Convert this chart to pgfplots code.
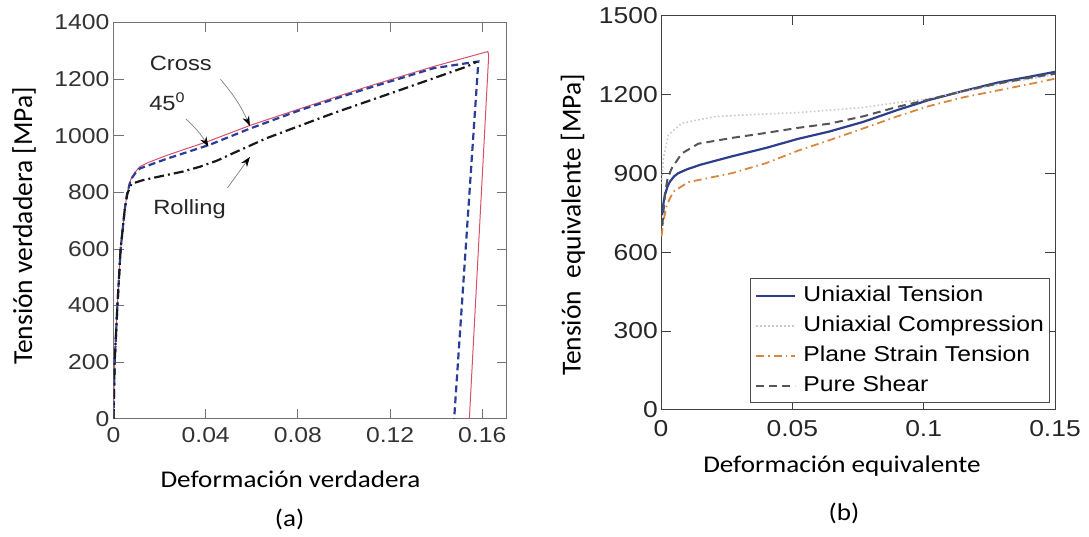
\documentclass[border=0pt]{standalone}
\usepackage{fontspec}
\setmainfont{Carlito}
\usepackage{pgfplots}
\pgfplotsset{compat=1.18}
\usetikzlibrary{arrows.meta}
\newfontfamily\arialS[FakeStretch=1.15]{Liberation Sans}
\newfontfamily\calS[FakeStretch=1.13]{Carlito}
\newfontfamily\calN{Carlito}
\newcommand\tickA{\arialS\fontsize{21.5}{24}\selectfont}
\newcommand\tickB{\arialS\fontsize{23}{26}\selectfont}
\newcommand\annA{\arialS\fontsize{20.6}{24}\selectfont}
\newcommand\legB{\arialS\fontsize{21.5}{24}\selectfont}
\newcommand\labA{\calS\fontsize{24}{28}\selectfont}
\newcommand\labY{\calN\fontsize{27.5}{30}\selectfont}
\definecolor{cred}{HTML}{D9506A}
\definecolor{cblueA}{HTML}{2A3D9A}
\definecolor{cblueB}{HTML}{2C3E8C}
\definecolor{ccomp}{HTML}{CFC6D0}
\definecolor{corange}{HTML}{D9873F}
\definecolor{cshear}{HTML}{555555}
\begin{document}
\begin{tikzpicture}
\path[use as bounding box] (0pt,0pt) rectangle (1089pt,537pt);
% ---------------- panel (a)
\begin{axis}[
  at={(113.5pt,118.2pt)}, anchor=south west, scale only axis,
  width=393.2pt, height=396.4pt,
  xmin=0, xmax=0.1706, ymin=0, ymax=1400,
  xtick={0,0.04,0.08,0.12,0.16}, xticklabels={0,0.04,0.08,0.12,0.16},
  ytick={0,200,400,600,800,1000,1200,1400},
  yticklabels={0,200,400,600,800,1000,1200,1400},
  scaled ticks=false,
  xtick pos=both, ytick pos=both, xticklabel pos=lower, yticklabel pos=left,
  tick align=inside, major tick length=10pt,
  axis line style={draw=black!55, line width=0.8pt},
  every tick/.style={draw=black!55, line width=0.8pt},
  ticklabel style={font=\tickA, text=black!80},
  xticklabel style={inner sep=0pt, yshift=-8pt},
  yticklabel style={inner sep=0pt, xshift=-4pt},
]
\addplot[cred, line width=1pt] coordinates {
(0,0)(0.0005,200)(0.0017,400)(0.0031,600)(0.0049,741)(0.006,798)(0.0075,845)
(0.0095,872)(0.0114,890)(0.015,905)(0.023,930)(0.0418,982)(0.0592,1036)
(0.0809,1095)(0.1098,1172)(0.1388,1244)(0.1615,1295)(0.1624,1297)(0.1628,1285)(0.1544,0)};
\addplot[cblueA, line width=2.2pt, dash pattern=on 7pt off 4pt] coordinates {
(0,0)(0.0005,200)(0.0017,400)(0.0031,600)(0.0049,741)(0.006,798)(0.0075,845)
(0.0095,868)(0.0114,884)(0.023,918)(0.0418,968)(0.0592,1025)(0.0809,1090)
(0.1098,1166)(0.1388,1238)(0.1583,1262)(0.1478,0)};
\addplot[black!90, line width=2.2pt, dash pattern=on 10pt off 4pt on 2pt off 4pt] coordinates {
(0,0)(0.0005,200)(0.0017,400)(0.0031,600)(0.0049,741)(0.006,795)(0.0078,830)
(0.0128,843)(0.023,861)(0.03,873)(0.0374,890)(0.045,912)(0.0519,938)(0.0664,991)(0.0953,1079)
(0.1243,1161)(0.1533,1244)(0.1576,1261)};
\node[font=\annA, text=black!85] at (axis cs:0.0292,1254) {Cross};
\node[font=\annA, text=black!85] at (axis cs:0.0232,1120) {45\raisebox{8pt}{\fontsize{14}{14}\selectfont 0}};
\node[font=\annA, text=black!85] at (axis cs:0.033,742) {Rolling};
\draw[black!50, line width=0.7pt, -{Stealth[length=10pt,width=7pt,black]}] (axis cs:0.0464,1199) to[bend left=8] (axis cs:0.0592,1034);
\draw[black!50, line width=0.7pt, -{Stealth[length=10pt,width=7pt,black]}] (axis cs:0.0314,1059) to[bend left=8] (axis cs:0.0412,961);
\draw[black!50, line width=0.7pt, -{Stealth[length=10pt,width=7pt,black]}] (axis cs:0.0494,815) -- (axis cs:0.0592,925);
\end{axis}
% ---------------- panel (b)
\begin{axis}[
  at={(661pt,127pt)}, anchor=south west, scale only axis,
  width=394pt, height=394.7pt,
  xmin=0, xmax=0.15, ymin=0, ymax=1500,
  xtick={0,0.05,0.1,0.15}, xticklabels={0,0.05,0.1,0.15},
  ytick={0,300,600,900,1200,1500},
  yticklabels={0,300,600,900,1200,1500},
  scaled ticks=false,
  xtick pos=both, ytick pos=both, xticklabel pos=lower, yticklabel pos=left,
  tick align=inside, major tick length=10pt,
  axis line style={draw=black!75, line width=1pt},
  every tick/.style={draw=black!75, line width=1pt},
  ticklabel style={font=\tickB, text=black!85},
  xticklabel style={inner sep=0pt, yshift=-10pt},
  yticklabel style={inner sep=0pt, xshift=-3pt},
  legend style={at={(axis description cs:1,0)}, anchor=south east,
    xshift=-5.7pt, yshift=6.7pt, draw=black!70, line width=0.8pt,
    font=\legB, inner xsep=5pt, inner ysep=6pt, row sep=8pt,
    nodes={inner sep=0pt, text height=17pt, text depth=5pt},
    /tikz/every odd column/.append style={column sep=7pt}},
  legend cell align=left,
  legend image code/.code={\draw[#1] (0pt,0pt) -- (39pt,0pt);},
]
\addplot[cblueB, line width=2.2pt] coordinates {
(0.0004,740)(0.001,790)(0.0015,817)(0.0025,850)(0.0034,868)(0.005,888)(0.0066,900)
(0.01,915)(0.015,932)(0.027,964)(0.04,996)(0.052,1030)(0.064,1058)(0.077,1095)
(0.09,1140)(0.102,1178)(0.115,1212)(0.128,1244)(0.14,1266)(0.15,1285)};
\addlegendentry{Uniaxial Tension}
\addplot[ccomp, line width=1.6pt, dash pattern=on 1.6pt off 2.4pt] coordinates {
(0.0002,860)(0.0009,957)(0.0028,1045)(0.0079,1090)(0.0206,1115)(0.033,1122)
(0.052,1130)(0.065,1140)(0.077,1150)(0.09,1168)(0.1,1180)(0.115,1210)(0.13,1240)(0.15,1275)};
\addlegendentry{Uniaxial Compression}
\addplot[corange, line width=1.8pt, dash pattern=on 8pt off 4pt on 1.5pt off 4pt] coordinates {
(0.0002,660)(0.0009,715)(0.0022,779)(0.0047,830)(0.0104,866)(0.027,900)(0.04,938)
(0.052,985)(0.064,1025)(0.077,1070)(0.09,1116)(0.102,1155)(0.115,1188)(0.128,1214)
(0.14,1238)(0.15,1259)};
\addlegendentry{Plane Strain Tension}
\addplot[cshear, line width=2pt, dash pattern=on 8pt off 5pt] coordinates {
(0.0005,700)(0.0015,820)(0.0025,880)(0.0041,919)(0.0079,975)(0.0142,1012)(0.027,1034)
(0.04,1053)(0.052,1072)(0.064,1088)(0.077,1116)(0.09,1152)(0.102,1180)(0.115,1212)
(0.128,1240)(0.14,1262)(0.15,1278)};
\addlegendentry{Pure Shear}
\end{axis}
% ---------------- labels
\node[font=\labA] at (290.5pt,58pt) {Deformación verdadera};
\node[font=\labA] at (842pt,71.3pt) {Deformación equivalente};
\node[font=\labA] at (289.7pt,18pt) {(a)};
\node[font=\labA] at (844pt,23.3pt) {(b)};
\node[font=\labY, rotate=90] at (24pt,311pt) {Tensión verdadera [MPa]};
\node[font=\labY, rotate=90] at (573pt,312pt) {Tensión\ \ equivalente [MPa]};
\end{tikzpicture}
\end{document}
